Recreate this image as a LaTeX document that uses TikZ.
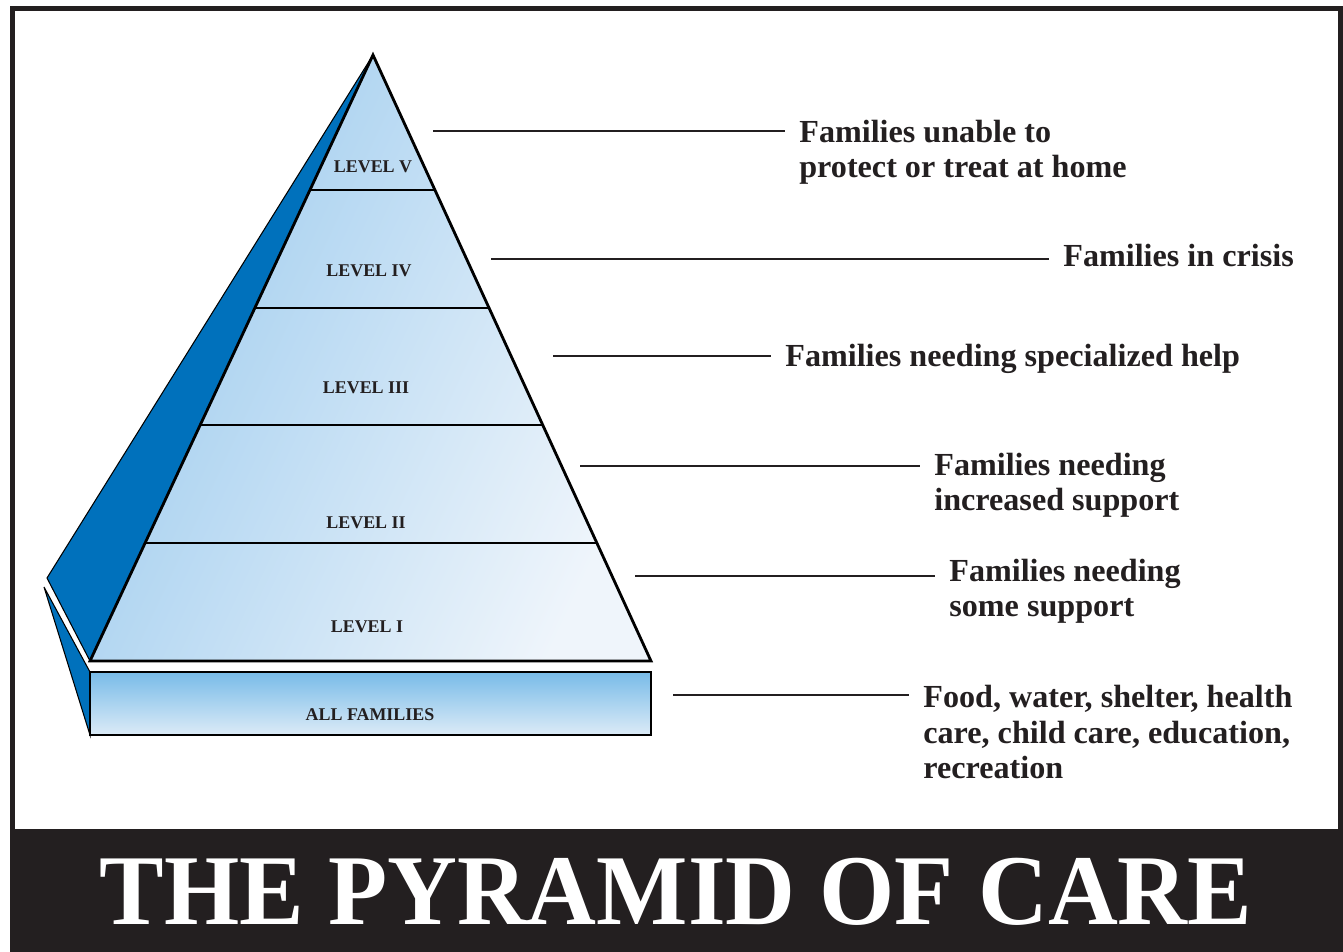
\documentclass[tikz,border=0pt]{standalone}
\usepackage{fontspec}
\setmainfont{Liberation Serif}
\usetikzlibrary{calc}

\definecolor{inkdark}{HTML}{231F20}
\definecolor{sideblue}{HTML}{0071BC}
\definecolor{pyrtop}{HTML}{9CCBEE}
\definecolor{pyrmid}{HTML}{ABD3F0}
\definecolor{pyrpale}{HTML}{EFF5FB}
\definecolor{basetop}{HTML}{78BBE8}
\definecolor{basebot}{HTML}{DCEBF7}

\begin{document}
\begin{tikzpicture}[x=0.02cm, y=-0.02cm,
    levellabel/.style={font=\bfseries\fontsize{10.2}{12}\selectfont, text=inkdark, inner sep=0pt},
    sidetext/.style={font=\bfseries\fontsize{18.3}{20.4}\selectfont, text=inkdark, align=left, inner sep=0pt, anchor=north west},
    leader/.style={draw=inkdark, line width=1.2pt, shorten >=0.28cm},
    pyrline/.style={draw=black, line width=1.6pt}]
    \useasboundingbox (0,0) rectangle (1343,952);
    % frame and title bar
    \draw[inkdark, line width=2.8pt] (12.5,8.5) rectangle (1340.5,831);
    \fill[inkdark] (10,830) rectangle (1343,952);
    \node[text=white, font=\bfseries\fontsize{57}{60}\selectfont, inner sep=0pt] (title) at (676,891.5) {\scalebox{0.966}[1]{THE PYRAMID OF CARE}};
    % blue side of the pyramid and of the base
    \coordinate (apex) at (373,55);
    \coordinate (bl) at (90,661);
    \coordinate (br) at (651,661);
    \filldraw[fill=sideblue, draw=black, line width=0.6pt] (apex) -- (47,578) -- (bl) -- cycle;
    \filldraw[fill=sideblue, draw=black, line width=0.6pt] (44,587) -- (90,672) -- (90,735) -- cycle;
    % front of the pyramid
    \shade[top color=pyrtop, middle color=pyrmid, bottom color=pyrpale, shading angle=65] (apex) -- (bl) -- (br) -- cycle;
    \foreach \t in {0.2228, 0.4175, 0.6106, 0.8053}
        \draw[pyrline] ($(apex)!\t!(bl)$) -- ($(apex)!\t!(br)$);
    \draw[pyrline] (apex) -- (bl) -- (br) -- cycle;
    % base
    \shade[top color=basetop, bottom color=basebot] (90,672) rectangle (651,735);
    \draw[pyrline] (90,672) rectangle (651,735);
    % level labels
    \node[levellabel] (lv5) at (373,167) {LEVEL V};
    \node[levellabel] (lv4) at (369,271) {LEVEL IV};
    \node[levellabel] (lv3) at (366,388) {LEVEL III};
    \node[levellabel] (lv2) at (366,523) {LEVEL II};
    \node[levellabel] (lv1) at (367,627) {LEVEL I};
    \node[levellabel] (all) at (370,715) {ALL FAMILIES};
    % texts on the right
    \node[sidetext] (t5) at (799,119.5) {Families unable to\\protect or treat at home};
    \node[sidetext] (t4) at (1063,243.5) {Families in crisis};
    \node[sidetext] (t3) at (785,343.5) {Families needing specialized help};
    \node[sidetext] (t2) at (934,452.5) {Families needing\\increased support};
    \node[sidetext] (t1) at (949,558.5) {Families needing\\some support};
    \node[sidetext] (t0) at (923,684.5) {Food, water, shelter, health\\care, child care, education,\\recreation};
    % leader lines
    \coordinate (s5) at (433,131);
    \coordinate (s4) at (491,259);
    \coordinate (s3) at (553,356);
    \coordinate (s2) at (580,466);
    \coordinate (s1) at (635,576);
    \coordinate (s0) at (673,695);
    \foreach \i in {0,...,5}
        \draw[leader] (s\i) -- (s\i -| t\i.west);
\end{tikzpicture}
\end{document}
